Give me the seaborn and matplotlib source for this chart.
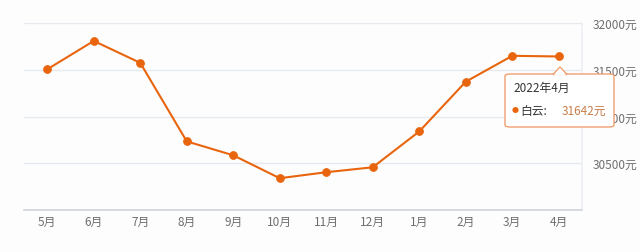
import matplotlib
matplotlib.use("Agg")
import matplotlib.pyplot as plt
import seaborn as sns
import pandas as pd
from matplotlib.patches import FancyBboxPatch, Polygon

months = ["5月", "6月", "7月", "8月", "9月", "10月", "11月", "12月", "1月", "2月", "3月", "4月"]
prices = [31505, 31808, 31574, 30734, 30585, 30340, 30404, 30457, 30840, 31372, 31649, 31642]
y_ticks = [30000, 30500, 31000, 31500, 32000]
y_tick_labels = ["", "30500元", "31000元", "31500元", "32000元"]
series_name = "白云"
tip_title = "2022年4月"

sns.set_theme(style="white")
plt.rcParams['font.family'] = ['Noto Sans CJK SC', 'DejaVu Sans']

W, H = 640, 253
fig = plt.figure(figsize=(W / 100, H / 100), dpi=100, facecolor="#fdfdfe")
ax = fig.add_axes([24 / W, (H - 211) / H, (582 - 24) / W, (211 - 24) / H])
ax.set_facecolor("#fdfdfe")

df = pd.DataFrame({"x": range(len(months)), "price": prices})
orange = "#e8650e"
sns.lineplot(data=df, x="x", y="price", ax=ax, color=orange, linewidth=1.5,
             marker="o", markersize=5.5, markeredgecolor=orange, markerfacecolor=orange, zorder=3)

ax.set_xlim(-0.5, len(months) - 0.5)
ax.set_ylim(30000, 32000)
ax.set_xticks(range(len(months)))
ax.set_xticklabels(months, fontsize=8.5, color="#6e6e6e")
ax.set_yticks(y_ticks)
ax.set_yticklabels(y_tick_labels, fontsize=8.5, color="#6e6e6e")
ax.yaxis.tick_right()
ax.tick_params(axis="y", length=0, pad=8)
ax.tick_params(axis="x", length=0, pad=3.5)
ax.grid(axis="y", color="#e6e9ee", linewidth=1)
ax.set_xlabel("")
ax.set_ylabel("")
for s in ["top", "left"]:
    ax.spines[s].set_visible(False)
ax.spines["right"].set_color("#eef0f3")
ax.spines["bottom"].set_color("#d0d3d8")
ax.spines["bottom"].set_linewidth(1.2)

# tooltip (pixel coords -> figure fraction)
def fx(px):
    return px / W

def fy(py):
    return (H - py) / H

bx0, bx1, by0, by1 = 505, 614, 75, 128
box = FancyBboxPatch((fx(bx0), fy(by1)), fx(bx1) - fx(bx0), fy(by0) - fy(by1),
                     boxstyle="round,pad=0,rounding_size=0.008",
                     transform=fig.transFigure, facecolor="white", edgecolor="#f0a070",
                     linewidth=1, zorder=10)
fig.add_artist(box)
tri = Polygon([(fx(553), fy(75.5)), (fx(560), fy(68)), (fx(567), fy(75.5))],
              closed=True, transform=fig.transFigure, facecolor="white",
              edgecolor="#f0a070", linewidth=1, zorder=11)
fig.add_artist(tri)
cover = Polygon([(fx(553.5), fy(76.5)), (fx(560), fy(69.5)), (fx(566.5), fy(76.5))],
                closed=True, transform=fig.transFigure, facecolor="white",
                edgecolor="none", zorder=12)
fig.add_artist(cover)
fig.text(fx(513), fy(88), tip_title, fontsize=8.5, color="#333333", va="center", ha="left", zorder=13)
fig.text(fx(512), fy(111), "●", fontsize=5, color=orange, va="center", ha="left", zorder=13)
fig.text(fx(520), fy(111), series_name + ":", fontsize=8.5, color="#333333", va="center", ha="left", zorder=13)
fig.text(fx(606), fy(111), f"{prices[-1]}元", fontsize=8.5, color="#c87d4a", va="center", ha="right", zorder=13)

fig.savefig("out.png", dpi=100, facecolor=fig.get_facecolor())
